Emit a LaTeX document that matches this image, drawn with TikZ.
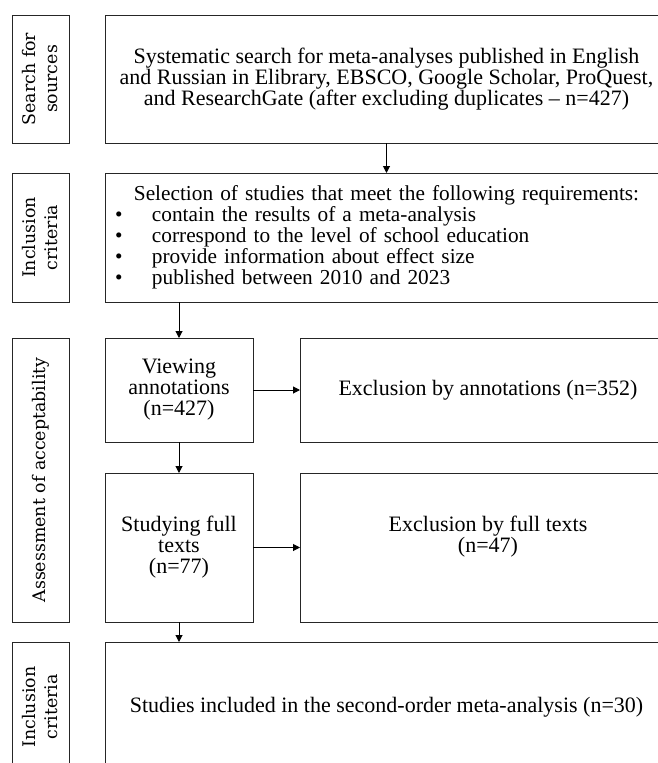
\documentclass[tikz,border=0pt]{standalone}
\usepackage{fontspec}
\setmainfont{Liberation Serif}
\newfontfamily\sidefont{DejaVu Serif}
\usetikzlibrary{positioning,arrows.meta}

\begin{document}
\begin{tikzpicture}[x=1pt,y=-1pt,>={Triangle[length=7pt,width=7pt]},
  box/.style={draw=black!85,line width=1pt,inner sep=0pt,outer sep=0pt,align=center,font=\fontsize{22}{21}\selectfont},
  side/.style={draw=black!85,line width=1pt,inner sep=0pt,outer sep=0pt,rotate=90,minimum height=57pt,align=center,font=\sidefont\fontsize{17.4}{22}\selectfont},
  line/.style={->,line width=1pt}]
\useasboundingbox (0,0) rectangle (658,763);
% main column
\node[box,minimum width=563pt,minimum height=128pt,anchor=north west] (search) at (105,15)
  {Systematic search for meta-analyses published in English\\and Russian in Elibrary, EBSCO, Google Scholar, ProQuest,\\and ResearchGate (after excluding duplicates -- n=427)};
\node[box,font=\fontsize{21.3}{21}\selectfont,minimum width=563pt,minimum height=129pt,text width=543pt,align=left,below=30pt of search] (select)
  {\makebox[543pt]{Selection of studies that meet the following requirements:}\\
   \makebox[37pt][l]{\textbullet}contain the results of a meta-analysis\\
   \makebox[37pt][l]{\textbullet}correspond to the level of school education\\
   \makebox[37pt][l]{\textbullet}provide information about effect size\\
   \makebox[37pt][l]{\textbullet}published between 2010 and 2023};
\node[box,minimum width=148pt,minimum height=104pt,below=36pt of select.south west,anchor=north west] (view)
  {Viewing\\annotations\\(n=427)};
\node[box,minimum width=376pt,minimum height=104pt,right=47pt of view] (exann)
  {Exclusion by annotations (n=352)};
\node[box,minimum width=148pt,minimum height=149pt,below=31pt of view] (study)
  {Studying full\\texts\\(n=77)};
\node[box,minimum width=376pt,minimum height=149pt,right=47pt of study] (exfull)
  {Exclusion by full texts\\(n=47)\\\phantom{(n=47)}};
\node[box,minimum width=563pt,minimum height=130pt,below=20pt of study.south west,anchor=north west] (final)
  {Studies included in the second-order meta-analysis (n=30)};
% stage labels
\node[side,minimum width=128pt] (stage1) at (40.5,79) {Search for\\sources};
\node[side,minimum width=129pt] (stage2) at (40.5,237.5) {Inclusion\\criteria};
\node[side,minimum width=284pt] (stage3) at (40.5,480) {Assessment of acceptability};
\node[side,minimum width=130pt] (stage4) at (40.5,707) {Inclusion\\criteria};
% arrows
\draw[line] (search) -- (select);
\draw[line] (select.south -| view) -- (view);
\draw[line] (view) -- (exann);
\draw[line] (view) -- (study);
\draw[line] (study) -- (exfull);
\draw[line] (study) -- (final.north -| study);
\end{tikzpicture}
\end{document}
